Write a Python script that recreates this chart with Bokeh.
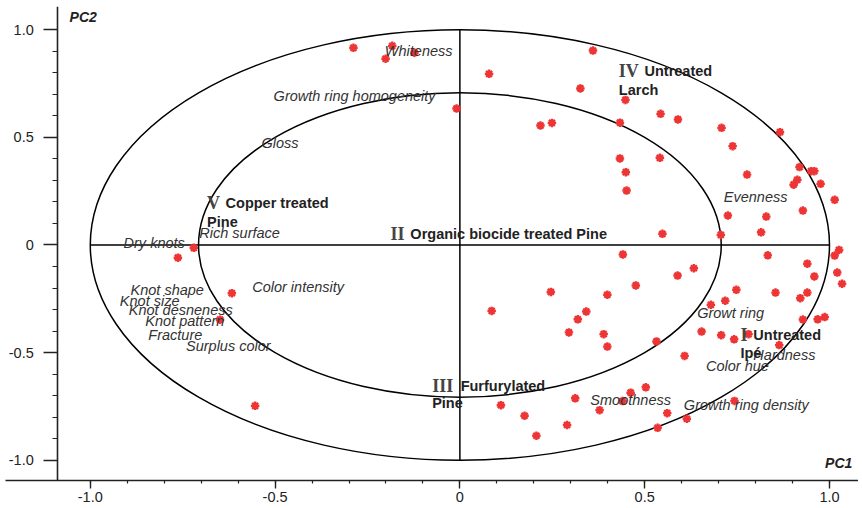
import numpy as np
from bokeh.plotting import figure
from bokeh.models import (ColumnDataSource, Range1d, LinearAxis, FixedTicker,
                          CustomJSTickFormatter)
from bokeh.core.properties import value
from bokeh.embed import file_html
from bokeh.resources import INLINE

# ---------------- data ----------------
# object scores (red stars)
pc1_scores = [-0.288, -0.183, -0.201, -0.123, 0.079, -0.009, 0.218, 0.249, 0.326, 0.360,
              0.448, 0.543, 0.590, 0.433, 0.708, 0.866, 0.738, 0.433, 0.541, 0.449,
              0.451, 0.919, 0.950, 0.959, 0.913, 0.903, 0.976, 0.777, 1.014, 0.928,
              0.725, 0.829, 0.815, 0.548, 0.706, 0.441, 0.833, 1.026, 1.014, 0.940,
              0.959, 1.021, 1.034, 0.633, 0.589, 0.476, 0.399, 0.342, 0.319, 0.295,
              0.389, 0.399, 0.532, 0.608, 0.748, 0.718, 0.679, 0.854, 0.940, 0.921,
              0.928, 0.968, 0.987, 0.654, 0.707, 0.742, 0.781, 0.864, 0.246, 0.086,
              0.111, 0.175, 0.207, 0.312, 0.290, 0.378, 0.440, 0.462, 0.503, 0.743,
              0.561, 0.614, 0.535, -0.720, -0.763, -0.617, -0.649, -0.554]
pc2_scores = [0.916, 0.925, 0.865, 0.893, 0.795, 0.634, 0.555, 0.567, 0.727, 0.903,
              0.674, 0.609, 0.583, 0.568, 0.544, 0.524, 0.459, 0.402, 0.405, 0.338,
              0.253, 0.362, 0.343, 0.343, 0.303, 0.280, 0.284, 0.327, 0.210, 0.160,
              0.137, 0.132, 0.059, 0.052, 0.047, -0.044, -0.048, -0.023, -0.049, -0.087,
              -0.146, -0.128, -0.180, -0.108, -0.142, -0.188, -0.231, -0.309, -0.345, -0.406,
              -0.414, -0.472, -0.448, -0.515, -0.208, -0.259, -0.278, -0.221, -0.221, -0.247,
              -0.346, -0.345, -0.335, -0.402, -0.419, -0.438, -0.414, -0.465, -0.218, -0.306,
              -0.744, -0.793, -0.886, -0.712, -0.836, -0.767, -0.725, -0.686, -0.661, -0.724,
              -0.781, -0.807, -0.849, -0.013, -0.059, -0.224, -0.347, -0.747]

# attribute (variable) labels
attr_names = ["Whiteness", "Growth ring homogeneity", "Gloss", "Rich surface", "Dry knots",
              "Color intensity", "Knot shape", "Knot size", "Knot desneness", "Knot pattern",
              "Fracture", "Surplus color", "Evenness", "Growt ring", "Hardness",
              "Color hue", "Smoothness", "Growth ring density"]
attr_pc1 = [-0.203, -0.504, -0.537, -0.705, -0.910, -0.562, -0.891, -0.920, -0.896, -0.851,
            -0.843, -0.741, 0.714, 0.642, 0.794, 0.666, 0.353, 0.606]
attr_pc2 = [0.899, 0.694, 0.476, 0.058, 0.007, -0.197, -0.211, -0.258, -0.304, -0.354,
            -0.416, -0.468, 0.225, -0.317, -0.513, -0.564, -0.718, -0.744]

# product groups
group_numerals = ["IV", "V", "II", "III", "I"]
group_line1 = ["Untreated", "Copper treated", "Organic biocide treated Pine", "Furfurylated", "Untreated"]
group_line2 = ["Larch", "Pine", "", "Pine", "Ipé"]
group_num_pc1 = [0.430, -0.684, -0.188, -0.075, 0.759]
group_txt_pc1 = [0.4995, -0.634, -0.134, 0.002, 0.794]
group_pc2_l1 = [0.806, 0.195, 0.053, -0.653, -0.416]
group_pc2_l2 = [0.722, 0.109, 0.053, -0.736, -0.501]

# correlation circles
circle_radii = [1.0, 0.7071]

# ticks
major_ticks = [-1.0, -0.5, 0.0, 0.5, 1.0]
minor_ticks = [round(v, 1) for v in np.arange(-1.0, 1.01, 0.1)]

# ---------------- figure ----------------
p = figure(width=858, height=506, output_backend="svg", toolbar_location=None,
           x_axis_type=None, y_axis_type=None,
           x_range=Range1d(-1.2294, 1.0785), y_range=Range1d(-1.0938, 1.1077),
           min_border_left=5, min_border_right=0, min_border_top=6, min_border_bottom=26)
p.outline_line_color = None
p.background_fill_color = "white"
p.border_fill_color = "white"

AX = "#222222"
fmt = CustomJSTickFormatter(code="return tick == 0 ? '0' : tick.toFixed(1);")

xaxis = LinearAxis(ticker=FixedTicker(ticks=major_ticks, minor_ticks=minor_ticks),
                   formatter=fmt,
                   axis_line_color=AX, axis_line_width=1.6,
                   major_tick_line_color=AX, major_tick_line_width=1.4,
                   minor_tick_line_color=AX, minor_tick_line_width=1.2,
                   major_tick_in=0, major_tick_out=8, minor_tick_in=0, minor_tick_out=3,
                   major_label_standoff=3,
                   major_label_text_font="Liberation Sans",
                   major_label_text_font_size="14.5px",
                   major_label_text_color=AX)
p.add_layout(xaxis, "below")

yaxis = LinearAxis(ticker=FixedTicker(ticks=major_ticks, minor_ticks=minor_ticks),
                   formatter=fmt, fixed_location=-1.088,
                   axis_line_color=AX, axis_line_width=1.6,
                   major_tick_line_color=AX, major_tick_line_width=1.4,
                   minor_tick_line_color=AX, minor_tick_line_width=1.2,
                   major_tick_in=0, major_tick_out=14, minor_tick_in=0, minor_tick_out=5,
                   major_label_standoff=10,
                   major_label_text_font="Liberation Sans",
                   major_label_text_font_size="14.5px",
                   major_label_text_color=AX)
p.add_layout(yaxis, "left")

# circles
p.ellipse(x=0, y=0, width=[2 * r for r in circle_radii], height=[2 * r for r in circle_radii],
          fill_color=None, line_color="black", line_width=1.5)
# cross lines
R = circle_radii[0]
p.segment(x0=[-R, 0], y0=[0, -R], x1=[R, 0], y1=[0, R], line_color="black", line_width=1.5)

# points
src = ColumnDataSource(dict(x=pc1_scores, y=pc2_scores))
RED = "#ee3535"
p.scatter("x", "y", source=src, marker="asterisk", size=8.5, line_color=RED, line_width=2.4)
p.scatter("x", "y", source=src, marker="circle", size=4, fill_color=RED, line_color=None)

# attribute labels
p.text(x=attr_pc1, y=attr_pc2, text=attr_names, text_font=value("Liberation Sans"),
       text_font_style="italic", text_font_size="14.5px", text_color="#333333",
       text_align="left", text_baseline="middle")

# group labels
p.text(x=group_num_pc1, y=group_pc2_l1, text=group_numerals, text_font=value("Liberation Serif"),
       text_font_style="bold", text_font_size="18px", text_color="#444444",
       text_align="left", text_baseline="middle")
p.text(x=group_txt_pc1, y=group_pc2_l1, text=group_line1, text_font=value("Liberation Sans"),
       text_font_style="bold", text_font_size="14.5px", text_color="#222222",
       text_align="left", text_baseline="middle")
p.text(x=group_num_pc1, y=group_pc2_l2, text=group_line2, text_font=value("Liberation Sans"),
       text_font_style="bold", text_font_size="14.5px", text_color="#222222",
       text_align="left", text_baseline="middle")

# axis names
p.text(x=[-1.056, 0.988], y=[1.061, -1.013], text=["PC2", "PC1"], text_font=value("Liberation Sans"),
       text_font_style="bold italic", text_font_size="14px", text_color="#222222",
       text_align="left", text_baseline="middle")

open("out.html", "w").write(file_html(p, INLINE))
